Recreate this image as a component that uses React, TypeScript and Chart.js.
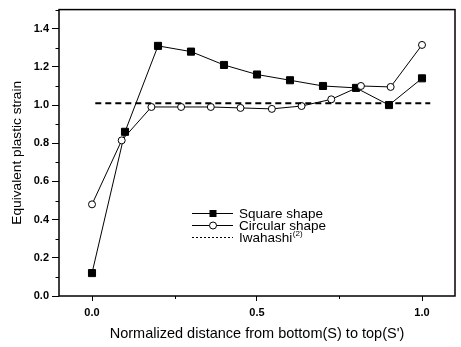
import React, { useEffect, useRef } from "react";
import { Chart, registerables } from "chart.js";

Chart.register(...registerables);

const squareX = [0, 0.1, 0.2, 0.3, 0.4, 0.5, 0.6, 0.7, 0.8, 0.9, 1.0];
const squareY = [0.12, 0.86, 1.31, 1.28, 1.21, 1.16, 1.13, 1.1, 1.09, 1.0, 1.14];
const circleX = [0, 0.09, 0.18, 0.27, 0.36, 0.45, 0.545, 0.635, 0.725, 0.815, 0.905, 1.0];
const circleY = [0.48, 0.815, 0.99, 0.99, 0.99, 0.985, 0.98, 0.995, 1.03, 1.1, 1.095, 1.315];
const iwahashiX = [0.01, 1.025];
const iwahashiY = [1.01, 1.01];

const xMajorTicks = [0, 0.5, 1.0];
const xMinorTicks = [0.25, 0.75];
const yMajorTicks = [0, 0.2, 0.4, 0.6, 0.8, 1.0, 1.2, 1.4];
const yMinorTicks = [0.1, 0.3, 0.5, 0.7, 0.9, 1.1, 1.3, 1.5];

const seriesNames = ["Square shape", "Circular shape", "Iwahashi"];
const iwahashiSup = "(2)";

const FONT = "'Liberation Sans', Arial, sans-serif";

const framePlugin = {
  id: "framePlugin",
  afterDraw(chart: any) {
    const { ctx, chartArea, scales } = chart;
    const { left, top, right, bottom } = chartArea;
    ctx.save();
    ctx.strokeStyle = "#000";
    ctx.lineWidth = 1.5;
    ctx.strokeRect(left, top, right - left, bottom - top);
    ctx.lineWidth = 1;
    ctx.beginPath();
    xMinorTicks.forEach((v) => {
      const px = Math.round(scales.x.getPixelForValue(v)) + 0.5;
      ctx.moveTo(px, bottom);
      ctx.lineTo(px, bottom + 3);
    });
    yMinorTicks.forEach((v) => {
      const py = Math.round(scales.y.getPixelForValue(v)) + 0.5;
      ctx.moveTo(left, py);
      ctx.lineTo(left - 3.5, py);
    });
    ctx.stroke();
    ctx.restore();
  },
};

const legendPlugin = {
  id: "legendPlugin",
  afterDraw(chart: any) {
    const { ctx } = chart;
    const rows = [213, 225, 237];
    const x0 = 192;
    const x1 = 233;
    const xm = 213;
    const tx = 239;
    ctx.save();
    ctx.strokeStyle = "#000";
    ctx.fillStyle = "#000";
    ctx.lineWidth = 1;
    ctx.beginPath();
    ctx.moveTo(x0, rows[0] + 0.5);
    ctx.lineTo(x1, rows[0] + 0.5);
    ctx.stroke();
    ctx.fillRect(xm - 3.5, rows[0] - 3, 7, 7);
    ctx.beginPath();
    ctx.moveTo(x0, rows[1] + 0.5);
    ctx.lineTo(x1, rows[1] + 0.5);
    ctx.stroke();
    ctx.beginPath();
    ctx.fillStyle = "#fff";
    ctx.arc(xm, rows[1] + 0.5, 3.5, 0, Math.PI * 2);
    ctx.fill();
    ctx.stroke();
    ctx.setLineDash([2, 2]);
    ctx.beginPath();
    ctx.moveTo(x0, rows[2] + 0.5);
    ctx.lineTo(x1, rows[2] + 0.5);
    ctx.stroke();
    ctx.setLineDash([]);
    ctx.fillStyle = "#000";
    ctx.font = `13.5px ${FONT}`;
    ctx.textBaseline = "middle";
    ctx.textAlign = "left";
    ctx.fillText(seriesNames[0], tx, rows[0] + 1);
    ctx.fillText(seriesNames[1], tx, rows[1] + 1);
    ctx.fillText(seriesNames[2], tx, rows[2] + 1);
    const w = ctx.measureText(seriesNames[2]).width;
    ctx.font = `8px ${FONT}`;
    ctx.fillText(iwahashiSup, tx + w + 0.5, rows[2] - 3);
    ctx.restore();
  },
};

export default function App() {
  const ref = useRef<HTMLCanvasElement | null>(null);
  useEffect(() => {
    if (!ref.current) return;
    const chart = new Chart(ref.current, {
      type: "line",
      data: {
        datasets: [
          {
            label: seriesNames[2],
            data: iwahashiX.map((x, i) => ({ x, y: iwahashiY[i] })),
            borderColor: "#000",
            borderWidth: 2,
            borderDash: [6, 4],
            pointRadius: 0,
            fill: false,
          },
          {
            label: seriesNames[1],
            data: circleX.map((x, i) => ({ x, y: circleY[i] })),
            borderColor: "#000",
            borderWidth: 1,
            pointStyle: "circle",
            pointRadius: 3.5,
            pointBackgroundColor: "#fff",
            pointBorderColor: "#000",
            pointBorderWidth: 1,
            fill: false,
          },
          {
            label: seriesNames[0],
            data: squareX.map((x, i) => ({ x, y: squareY[i] })),
            borderColor: "#000",
            borderWidth: 1,
            pointStyle: "rect",
            pointRadius: 5,
            pointBackgroundColor: "#000",
            pointBorderColor: "#000",
            pointBorderWidth: 1,
            fill: false,
          },
        ],
      },
      options: {
        animation: false,
        responsive: false,
        maintainAspectRatio: false,
        devicePixelRatio: 1,
        layout: { padding: { top: 5, right: 2, left: 0, bottom: 0 } },
        plugins: {
          legend: { display: false },
          tooltip: { enabled: false },
          title: { display: false },
        },
        scales: {
          x: {
            type: "linear",
            min: -0.1,
            max: 1.1,
            afterBuildTicks: (scale: any) => {
              scale.ticks = xMajorTicks.map((v) => ({ value: v }));
            },
            afterFit: (scale: any) => {
              scale.height = 51;
            },
            grid: {
              display: true,
              drawOnChartArea: false,
              drawTicks: true,
              tickLength: 5,
              tickColor: "#000",
              tickWidth: 1,
            },
            border: { display: false },
            ticks: {
              color: "#000",
              padding: 5,
              font: { family: FONT, size: 11, weight: "bold" },
              callback: (v: any) => Number(v).toFixed(1),
              maxRotation: 0,
            },
            title: {
              display: true,
              text: "Normalized distance from bottom(S) to top(S')",
              color: "#000",
              font: { family: FONT, size: 14.5 },
              padding: { top: 0, bottom: 4 },
            },
          },
          y: {
            type: "linear",
            min: 0,
            max: 1.5,
            afterBuildTicks: (scale: any) => {
              scale.ticks = yMajorTicks.map((v) => ({ value: v }));
            },
            afterFit: (scale: any) => {
              scale.width = 59;
            },
            grid: {
              display: true,
              drawOnChartArea: false,
              drawTicks: true,
              tickLength: 7,
              tickColor: "#000",
              tickWidth: 1,
            },
            border: { display: false },
            ticks: {
              color: "#000",
              padding: 3,
              font: { family: FONT, size: 11, weight: "bold" },
              callback: (v: any) => Number(v).toFixed(1),
            },
            title: {
              display: true,
              text: "Equivalent plastic strain",
              color: "#000",
              font: { family: FONT, size: 13.7 },
              padding: { top: 9.5, bottom: 0 },
            },
          },
        },
      },
      plugins: [framePlugin, legendPlugin],
    });
    return () => chart.destroy();
  }, []);
  return (
    <div style={{ position: "fixed", left: 0, top: 0, width: 461, height: 347, background: "#fff" }}>
      <canvas ref={ref} width={461} height={347} style={{ width: 461, height: 347 }} />
    </div>
  );
}
